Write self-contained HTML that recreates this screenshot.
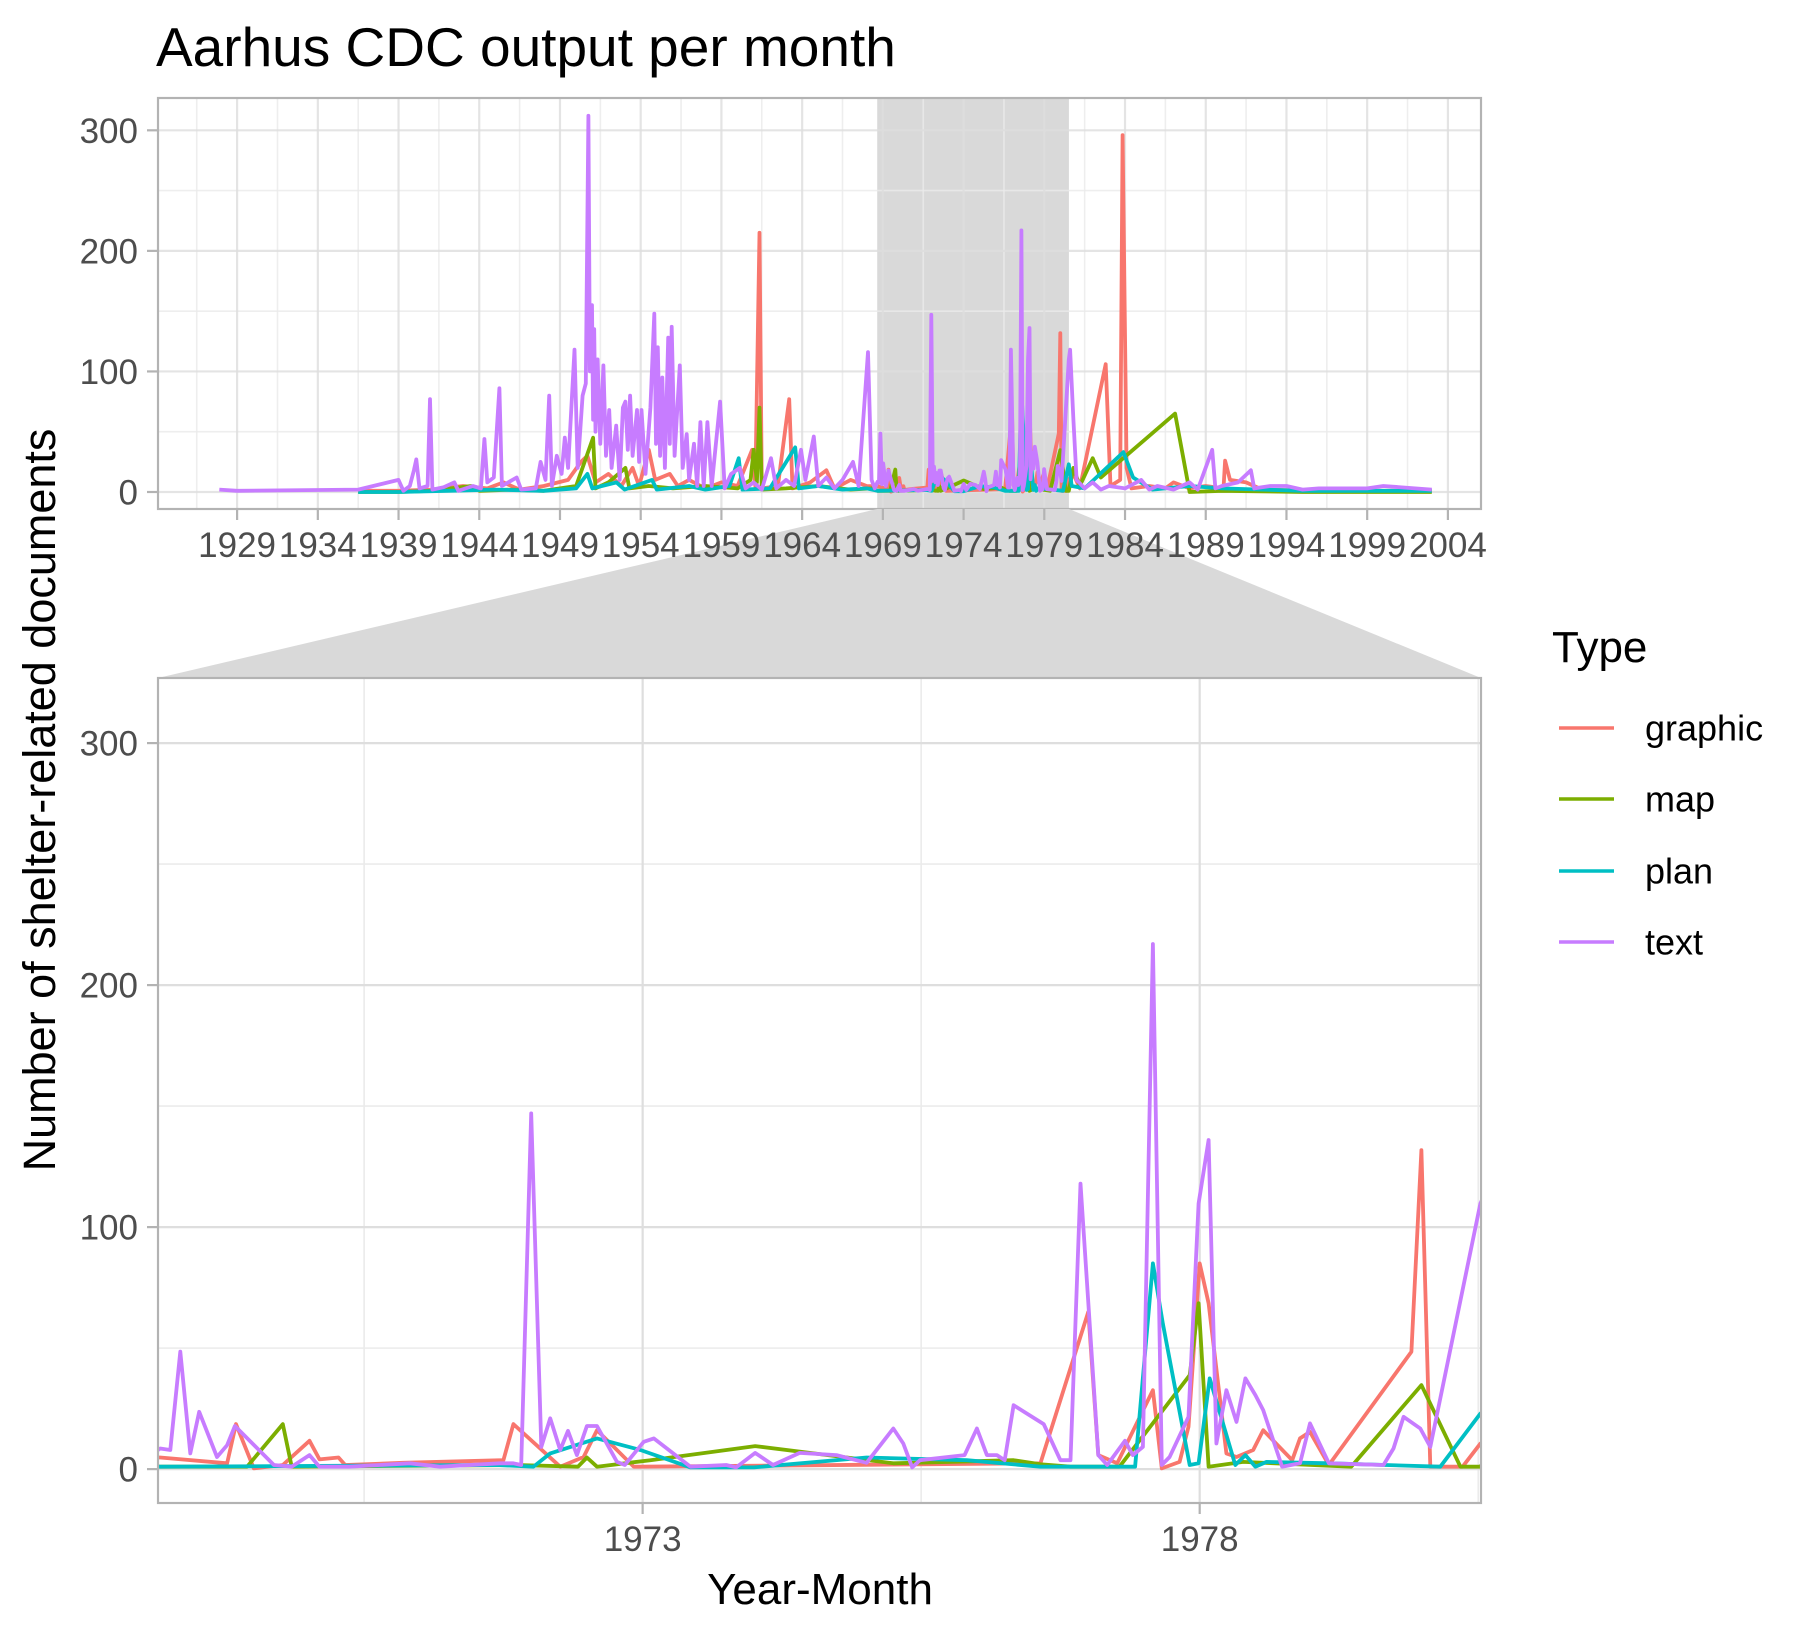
<!DOCTYPE html>
<html><head><meta charset="utf-8"><title>Aarhus CDC output per month</title>
<style>
html,body{margin:0;padding:0;background:#fff;}
svg{display:block;font-family:"Liberation Sans",Arial,sans-serif;}
</style></head>
<body>
<svg id="chart" width="1811" height="1634" viewBox="0 0 1811 1634" xmlns="http://www.w3.org/2000/svg">
<defs>
<clipPath id="clipTop"><rect x="158" y="98" width="1323" height="411"/></clipPath>
<clipPath id="clipBot"><rect x="158" y="678" width="1323" height="825"/></clipPath>
</defs>
<rect x="0" y="0" width="1811" height="1634" fill="#fff"/>
<text x="156" y="66" font-size="55" fill="#000">Aarhus CDC output per month</text>
<g id="topPanel"></g>
<g id="zoomShape"></g>
<g id="topXAxis"></g>
<g id="botPanel"></g>
<text transform="translate(55,800) rotate(-90)" text-anchor="middle" font-size="45" fill="#000">Number of shelter-related documents</text>
<text x="820" y="1604" text-anchor="middle" font-size="44" fill="#000">Year-Month</text>
<g id="legend"></g>
</svg>
<script>
// ---- data: [decimal year, documents per month] ----
const seriesNames = ["graphic", "map", "plan", "text"];
const seriesColors = ["#F8766D", "#7CAE00", "#00BFC4", "#C77CFF"];
const topXTicks = [1929,1934,1939,1944,1949,1954,1959,1964,1969,1974,1979,1984,1989,1994,1999,2004];
const botXTicks = [1973,1978];
const yTicks = [0,100,200,300];

const graphicData = [
[1936.5,1],[1939,1],[1941,2],[1943,5],[1944.5,3],[1945.5,8],[1946.5,2],[1948,5],[1949.5,10],[1950.3,25],[1950.7,30],[1951.2,8],[1952,15],[1952.8,5],[1953.5,20],[1953.9,5],[1954.5,35],[1954.9,10],[1955.8,15],[1956.3,5],[1957,10],[1958,3],[1959,8],[1960,5],[1960.9,35],[1961.1,5],[1961.36,215],[1961.5,3],[1962.5,5],[1963.2,77],[1963.4,3],[1964.5,8],[1965.5,18],[1966,3],[1967,10],[1968,5],
[1968.67,4.8],[1969.27,2.4],[1969.35,18.6],[1969.51,0.3],[1969.77,1.7],[1970.01,11.7],[1970.10,4],[1970.27,4.8],[1970.33,1.7],[1970.85,2.6],[1971.75,3.7],[1971.84,18.6],[1972.26,1],[1972.47,5],[1972.59,16.1],[1972.92,1],[1972.98,1],[1976.57,2.4],[1977.0,65],[1977.09,5.8],[1977.26,2.4],[1977.58,32.6],[1977.66,0.3],[1977.82,3],[1977.90,17.5],[1978.0,85],[1978.08,68.5],[1978.24,6.5],[1978.33,5],[1978.48,7.9],[1978.57,16.1],[1978.83,3.7],[1978.90,12.7],[1978.99,15.4],[1979.16,1.7],[1979.90,48.5],[1979.99,131.8],[1980.07,1],[1980.36,1],[1980.52,10.6],
[1980.8,15],[1981.2,3],[1982.8,106],[1983.1,5],[1983.7,10],[1983.85,296],[1984.1,20],[1984.4,3],[1985.5,5],[1986.5,3],[1987,8],[1988,3],[1989,5],[1990.1,3],[1990.2,26],[1990.5,10],[1991.5,8],[1992.5,2],[1996,1],[2003,1]
];
const mapData = [
[1936.5,0],[1939,0],[1941,1],[1943.5,5],[1944,1],[1946,2],[1948,1],[1950,5],[1951.05,45],[1951.2,3],[1952,8],[1953.05,20],[1953.3,3],[1954.5,5],[1956,3],[1958,5],[1960,3],[1960.8,10],[1961.0,35],[1961.2,8],[1961.36,70],[1961.5,2],[1963,3],[1965,5],[1967,2],[1968.3,3],
[1968.67,1],[1969.45,1],[1969.77,18.6],[1969.85,1],[1971.87,1.7],[1972.42,1],[1972.50,4.8],[1972.59,1],[1973.07,3.7],[1974.01,9.5],[1975.25,2.4],[1976.33,3.7],[1976.57,2],[1976.84,1],[1977.28,1],[1977.91,38.8],[1977.99,68.5],[1978.08,1],[1978.39,3],[1979.36,1],[1979.99,34.7],[1980.34,1],[1980.52,1],
[1980.8,20],[1981.2,5],[1982.0,28],[1982.5,12],[1987.1,65],[1988.0,0],[1990,1],[1995,0],[2003,0]
];
const planData = [
[1936.5,0],[1939,0],[1942,1],[1945,2],[1948,1],[1950,3],[1950.7,15],[1951,3],[1952.5,8],[1953,2],[1954.7,10],[1955,2],[1957,5],[1958,2],[1959.5,5],[1960.07,28],[1960.3,2],[1962,3],[1963.57,37],[1963.8,3],[1965,5],[1966.5,2],[1968,3],
[1968.67,1],[1971.69,1.7],[1972.02,1],[1972.17,6.5],[1972.59,12.7],[1972.98,7.9],[1973.43,0.7],[1974.0,0.7],[1975.01,4.8],[1975.91,3.7],[1976.57,1],[1977.40,1],[1977.42,1],[1977.58,85],[1977.67,60],[1977.91,1.7],[1977.99,2.4],[1978.09,37.5],[1978.32,1.7],[1978.41,5.8],[1978.50,1],[1978.60,3],[1979.17,2.4],[1980.16,1],[1980.52,23],
[1980.7,5],[1981.5,3],[1983.9,33],[1984.5,12],[1985.7,2],[1988,5],[1990,3],[1995,1],[2003,1]
];
const textData = [
[1927.9,2],[1929,1],[1936.5,2],[1939,10],[1939.3,1],[1939.7,5],[1939.95,18],[1940.1,27],[1940.3,3],[1940.8,5],[1940.95,77],[1941.1,2],[1941.8,4],[1942.46,8],[1942.7,1],[1943.6,5],[1944.1,3],[1944.32,44],[1944.5,8],[1944.9,12],[1945.25,86],[1945.4,5],[1946.32,12],[1946.6,2],[1947.5,3],[1947.8,25],[1948.1,10],[1948.33,80],[1948.5,5],[1948.8,30],[1949.1,15],[1949.3,45],[1949.5,20],[1949.9,118],[1950.1,20],[1950.4,80],[1950.6,90],[1950.76,312],[1950.85,100],[1950.98,155],[1951.05,60],[1951.12,135],[1951.2,50],[1951.33,110],[1951.5,40],[1951.69,105],[1951.85,30],[1952.05,68],[1952.2,20],[1952.48,55],[1952.7,10],[1952.9,70],[1953.05,75],[1953.2,35],[1953.34,80],[1953.5,30],[1953.77,68],[1953.9,25],[1954.05,68],[1954.3,15],[1954.6,70],[1954.84,148],[1954.95,40],[1955.06,120],[1955.2,30],[1955.34,95],[1955.5,20],[1955.7,128],[1955.8,40],[1955.92,137],[1956.1,30],[1956.42,105],[1956.6,20],[1956.85,48],[1957.0,10],[1957.3,40],[1957.5,5],[1957.7,58],[1957.9,5],[1958.13,58],[1958.4,5],[1958.92,75],[1959.2,3],[1959.6,15],[1960.14,20],[1960.5,3],[1961,8],[1961.5,2],[1962.07,28],[1962.4,3],[1963,10],[1963.5,5],[1963.93,35],[1964.2,10],[1964.72,46],[1965,5],[1965.5,12],[1966,3],[1966.5,10],[1967.15,25],[1967.5,5],[1968.08,116],[1968.3,10],[1968.5,3],
[1968.67,8.5],[1968.76,7.9],[1968.85,48.5],[1968.94,6.5],[1969.02,23.7],[1969.18,5],[1969.27,9.9],[1969.34,17.8],[1969.69,1.7],[1969.85,1],[1970.01,5.8],[1970.10,1],[1970.37,1],[1970.91,2.4],[1971.18,1],[1971.72,2.4],[1971.84,2.4],[1971.91,1.7],[1972.0,147],[1972.09,9.2],[1972.17,21],[1972.26,7.9],[1972.33,15.8],[1972.41,5.8],[1972.50,17.8],[1972.59,17.8],[1972.77,3],[1972.84,1.7],[1973.01,11.3],[1973.10,12.7],[1973.43,1],[1973.75,1.7],[1973.84,0.7],[1974.01,6.7],[1974.17,1.7],[1974.41,6.7],[1974.74,5.8],[1975.01,2.6],[1975.25,16.8],[1975.34,10.6],[1975.42,0.7],[1975.49,3.7],[1975.89,5.8],[1976.0,16.8],[1976.09,5.8],[1976.18,5.8],[1976.25,3.7],[1976.33,26.4],[1976.60,18.6],[1976.75,3.7],[1976.84,3.7],[1976.93,118],[1977.09,5.8],[1977.17,1.7],[1977.33,11.7],[1977.40,5.8],[1977.49,9.2],[1977.58,217],[1977.66,1.7],[1977.73,5],[1977.90,21.6],[1977.99,109.8],[1978.08,136],[1978.15,10.6],[1978.24,32.6],[1978.33,19.5],[1978.41,37.5],[1978.50,30.6],[1978.57,24.4],[1978.74,1],[1978.90,2.4],[1978.99,18.9],[1979.16,2.4],[1979.65,1.7],[1979.74,8.5],[1979.83,21.6],[1979.98,16.8],[1980.07,9.2],[1980.52,109.8],
[1980.6,118],[1980.8,60],[1981,10],[1981.5,3],[1982,8],[1982.5,2],[1983,5],[1984,3],[1985,10],[1985.5,2],[1986,5],[1987,2],[1988,8],[1988.5,2],[1989.4,35],[1989.6,3],[1990,5],[1991,8],[1991.8,18],[1992,3],[1993,5],[1994,5],[1995,2],[1996,3],[1999,3],[2000,5],[2003,2]
];
const allData = [graphicData, mapData, planData, textData];

// ---- axis functions ----
const NS = "http://www.w3.org/2000/svg";
const topP = {x0:158, x1:1481, y0:98, y1:509, yrMin:1924.1, yrMax:2006.05, vMin:-14.1, vMax:326.8};
const botP = {x0:158, x1:1481, y0:678, y1:1503, yrMin:1968.65, yrMax:1980.525, vMin:-14.0, vMax:326.9};
const zoomStart = 1968.65, zoomEnd = 1980.525;
function sx(p, yr){ return p.x0 + (yr - p.yrMin) / (p.yrMax - p.yrMin) * (p.x1 - p.x0); }
function sy(p, v){ return p.y1 - (v - p.vMin) / (p.vMax - p.vMin) * (p.y1 - p.y0); }
function mk(tag, attrs, parent){ const e = document.createElementNS(NS, tag); for (const k in attrs) e.setAttribute(k, attrs[k]); parent.appendChild(e); return e; }

function drawPanel(g, p, xTicks, xMinor, clipId, shade){
  const bg = mk("rect", {x:p.x0, y:p.y0, width:p.x1-p.x0, height:p.y1-p.y0, fill:"#fff"}, g);
  
  
  if (shade){
    const r = mk("rect", {x:sx(p, zoomStart), y:p.y0, width:sx(p, zoomEnd)-sx(p, zoomStart), height:p.y1-p.y0, fill:"#d9d9d9"}, g);
    
    
  }
  const grid = mk("g", {"clip-path":"url(#"+clipId+")"}, g);
  
  
  [50,150,250].forEach(v => {
    const l = mk("line", {x1:p.x0, x2:p.x1, y1:sy(p,v), y2:sy(p,v), stroke:"#ebebeb", "stroke-width":1.6, opacity:shade?0.8:1}, grid);
    
    
  });
  xMinor.forEach(yr => {
    const l = mk("line", {x1:sx(p,yr), x2:sx(p,yr), y1:p.y0, y2:p.y1, stroke:"#ebebeb", "stroke-width":1.6, opacity:shade?0.8:1}, grid);
    
    
  });
  yTicks.forEach(v => {
    const l = mk("line", {x1:p.x0, x2:p.x1, y1:sy(p,v), y2:sy(p,v), stroke:"#dedede", "stroke-width":2.2, opacity:shade?0.8:1}, grid);
    
    
  });
  xTicks.forEach(yr => {
    const l = mk("line", {x1:sx(p,yr), x2:sx(p,yr), y1:p.y0, y2:p.y1, stroke:"#dedede", "stroke-width":2.2, opacity:shade?0.8:1}, grid);
    
    
  });
  const lines = mk("g", {"clip-path":"url(#"+clipId+")"}, g);
  
  
  allData.forEach((d, i) => {
    const pts = d.map(q => sx(p, q[0]).toFixed(1) + "," + sy(p, q[1]).toFixed(1)).join(" ");
    const pl = mk("polyline", {points:pts, fill:"none", stroke:seriesColors[i], "stroke-width":3.8, "stroke-linejoin":"round"}, lines);
    
    
  });
  const border = mk("rect", {x:p.x0, y:p.y0, width:p.x1-p.x0, height:p.y1-p.y0, fill:"none", stroke:"#b3b3b3", "stroke-width":2.2}, g);
  
  
  yTicks.forEach(v => {
    const t = mk("line", {x1:p.x0-11, x2:p.x0, y1:sy(p,v), y2:sy(p,v), stroke:"#b3b3b3", "stroke-width":2.2}, g);
    
    
    const lb = mk("text", {x:p.x0-20, y:sy(p,v)+12.5, "text-anchor":"end", "font-size":35, fill:"#4d4d4d"}, g);
    lb.textContent = v;
    
    
  });
}

function drawXLabels(g, p, xTicks){
  xTicks.forEach(yr => {
    const t = mk("line", {x1:sx(p,yr), x2:sx(p,yr), y1:p.y1, y2:p.y1+11, stroke:"#b3b3b3", "stroke-width":2.2}, g);
    
    
    const lb = mk("text", {x:sx(p,yr), y:p.y1+48, "text-anchor":"middle", "font-size":35, fill:"#4d4d4d"}, g);
    lb.textContent = yr;
    
    
  });
}

const topG = document.getElementById("topPanel");
const topAx = document.getElementById("topXAxis");
const botG = document.getElementById("botPanel");
const zs = document.getElementById("zoomShape");

const topMinor = topXTicks.map(y => y - 2.5);
drawPanel(topG, topP, topXTicks, topMinor, "clipTop", true);

const poly = mk("polygon", {points:[[sx(topP,zoomStart),topP.y1],[sx(topP,zoomEnd),topP.y1],[botP.x1,botP.y0],[botP.x0,botP.y0]].map(a=>a.join(",")).join(" "), fill:"#d9d9d9"}, zs);



drawXLabels(topAx, topP, topXTicks);
drawPanel(botG, botP, botXTicks, [1970.5, 1975.5, 1980.5], "clipBot", false);
drawXLabels(botG, botP, botXTicks);

// legend
const lg = document.getElementById("legend");
const lt = mk("text", {x:1552, y:662, "font-size":44, fill:"#000"}, lg);
lt.textContent = "Type";


const legendY = [728, 799, 871, 942];
seriesNames.forEach((n, i) => {
  const eg = mk("g", {}, lg);
  
  
  const k = mk("line", {x1:1559, x2:1614, y1:legendY[i], y2:legendY[i], stroke:seriesColors[i], "stroke-width":3.5}, eg);
  
  
  const tx = mk("text", {x:1645, y:legendY[i]+12.5, "font-size":36, fill:"#000"}, eg);
  tx.textContent = n;
  
  
});
</script>
</body></html>
